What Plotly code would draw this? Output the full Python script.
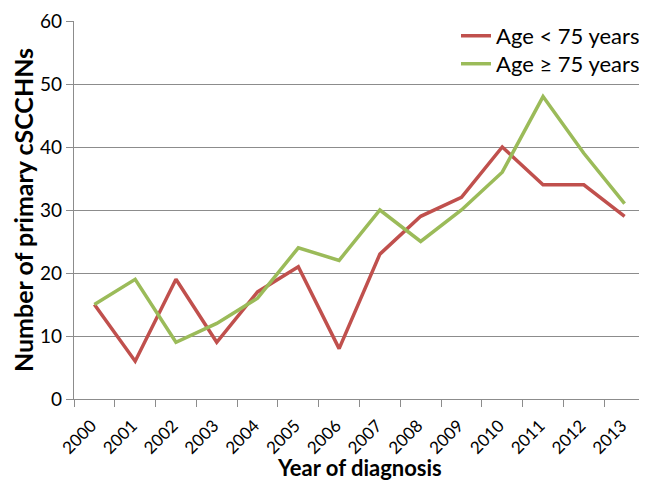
import plotly.graph_objects as go

years = ["2000", "2001", "2002", "2003", "2004", "2005", "2006",
         "2007", "2008", "2009", "2010", "2011", "2012", "2013"]
age_under_75 = [15, 6, 19, 9, 17, 21, 8, 23, 29, 32, 40, 34, 34, 29]
age_75_plus = [15, 19, 9, 12, 16, 24, 22, 30, 25, 30, 36, 48, 39, 31]
series_names = ["Age < 75 years", "Age ≥ 75 years"]
y_ticks = [0, 10, 20, 30, 40, 50, 60]

FONT = "Lato, 'Open Sans', sans-serif"
GRID = "#8c8c8c"

fig = go.Figure()
fig.add_trace(go.Scatter(x=years, y=age_under_75, name=series_names[0], mode="lines",
                         line=dict(color="#C0504D", width=3.5), legend="legend"))
fig.add_trace(go.Scatter(x=years, y=age_75_plus, name=series_names[1], mode="lines",
                         line=dict(color="#9BBB59", width=3.5), legend="legend2"))

legend_common = dict(xanchor="right", yanchor="top",
                     font=dict(size=22, family=FONT, color="black"),
                     bgcolor="rgba(0,0,0,0)", itemwidth=30)

fig.update_layout(
    width=639, height=473,
    margin=dict(l=66, r=2, t=13, b=82, autoexpand=False),
    paper_bgcolor="white", plot_bgcolor="white",
    font=dict(family=FONT, color="black"),
    showlegend=True,
    legend=dict(x=1, y=1.016, **legend_common),
    legend2=dict(x=1, y=0.942, **legend_common),
    xaxis=dict(type="category", range=[-0.5, 13.5],
               tickson="boundaries", ticks="outside", ticklen=7, tickcolor=GRID,
               tickwidth=1.3,
               showline=True, linecolor=GRID, linewidth=1.3,
               showgrid=False, zeroline=False,
               tickangle=-45, tickfont=dict(size=17, family=FONT),
               ticklabelstandoff=9, ticklabelshift=-3,
               automargin=False),
    yaxis=dict(range=[0, 60], tickvals=y_ticks, ticks="outside", ticklen=7,
               tickcolor=GRID, tickwidth=1.3,
               showline=True, linecolor=GRID, linewidth=1.3,
               showgrid=True, gridcolor=GRID, gridwidth=1.3, zeroline=False,
               tickfont=dict(size=19, family=FONT),
               title=dict(text="<b>Number of primary cSCCHNs</b>",
                          font=dict(size=25, family=FONT), standoff=9),
               automargin=False),
    annotations=[dict(text="<b>Year of diagnosis</b>", xref="paper", yref="paper",
                      x=0.5, y=-0.1825, xanchor="center", yanchor="middle",
                      showarrow=False, font=dict(size=22, family=FONT, color="black"))],
)

fig.write_html("out.html")
